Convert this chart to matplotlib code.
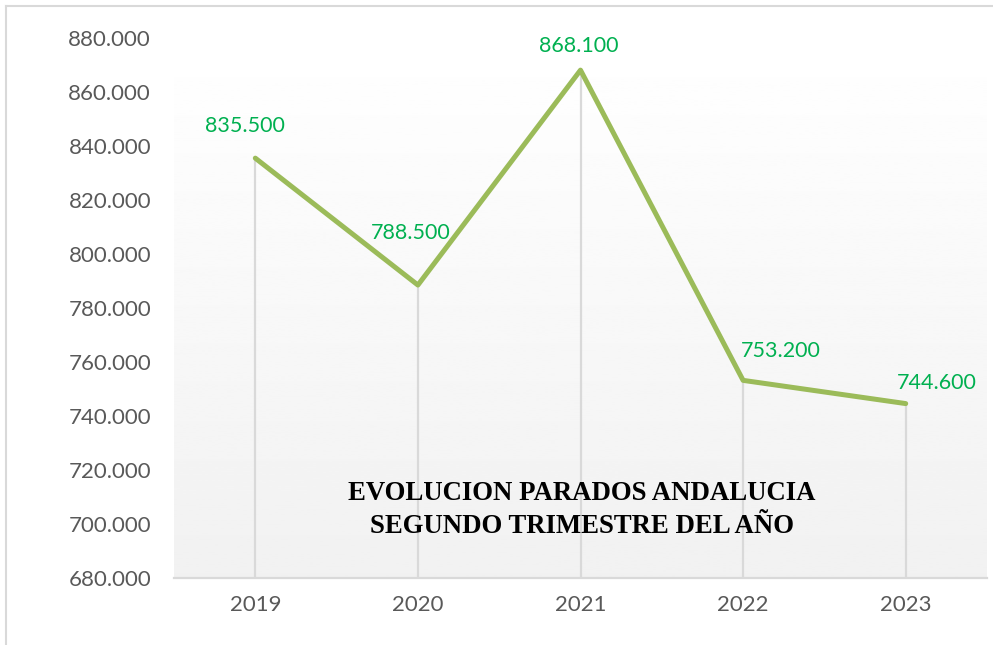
import matplotlib.pyplot as plt
import numpy as np
from matplotlib.lines import Line2D

years = ['2019', '2020', '2021', '2022', '2023']
parados = [835500, 788500, 868100, 753200, 744600]
labels = ['835.500', '788.500', '868.100', '753.200', '744.600']
# manual label offsets in pixels (as placed in the original)
label_dx = [-10, -7, -2, 38, 31]
label_dy = [32, 52, 24, 29, 21]

fig = plt.figure(figsize=(9.93, 6.45), dpi=100)
ax = fig.add_axes([174 / 993, 67 / 645, 813 / 993, 540 / 645])

x = np.arange(len(years))
ax.set_xlim(-0.5, len(years) - 0.5)
ax.set_ylim(680000, 880000)

# gradient background: white top, light grey bottom
grad = np.linspace(1.0, 0.945, 256).reshape(-1, 1)
ax.imshow(grad, cmap='gray', vmin=0, vmax=1, aspect='auto',
          extent=[0, 1, 0, 1], transform=ax.transAxes, zorder=0)

# drop lines
ax.vlines(x, 680000, parados, color='#D9D9D9', lw=1.6, zorder=1)

ax.plot(x, parados, color='#9BBB59', lw=3.6, solid_capstyle='round',
        solid_joinstyle='round', zorder=3)

for xi, v, lab, dx, dy in zip(x, parados, labels, label_dx, label_dy):
    ax.annotate(lab, (xi, v), xytext=(dx, dy), textcoords='offset pixels',
                ha='center', va='center', color='#00B050', fontsize=15.5,
                family='Lato', zorder=4)

ax.set_yticks(np.arange(680000, 880001, 20000))
ax.set_yticklabels([f'{int(t / 1000)}.000' for t in np.arange(680000, 880001, 20000)])
ax.set_xticks(x)
ax.set_xticklabels(years)
for t in ax.get_xticklabels() + ax.get_yticklabels():
    t.set_family('Lato')
    t.set_fontsize(16)
    t.set_color('#595959')
ax.tick_params(axis='both', length=0)
ax.tick_params(axis='y', pad=16.5)
ax.tick_params(axis='x', pad=12)

for s in ['top', 'right', 'left']:
    ax.spines[s].set_visible(False)
ax.spines['bottom'].set_color('#D9D9D9')
ax.spines['bottom'].set_linewidth(1.6)
ax.spines['bottom'].set_zorder(2)

ax.text(0.502, 0.126, 'EVOLUCION PARADOS ANDALUCIA\nSEGUNDO TRIMESTRE DEL AÑO',
        transform=ax.transAxes, ha='center', va='center', fontsize=19.3,
        fontweight='bold', family='Liberation Serif', linespacing=1.45, zorder=5)

# chart border (top and left visible)
fig.add_artist(Line2D([6 / 993, 1], [1 - 6 / 645, 1 - 6 / 645], color='#D9D9D9', lw=1.5))
fig.add_artist(Line2D([6 / 993, 6 / 993], [0, 1 - 6 / 645], color='#D9D9D9', lw=1.5))

fig.savefig('out.png', dpi=100)
